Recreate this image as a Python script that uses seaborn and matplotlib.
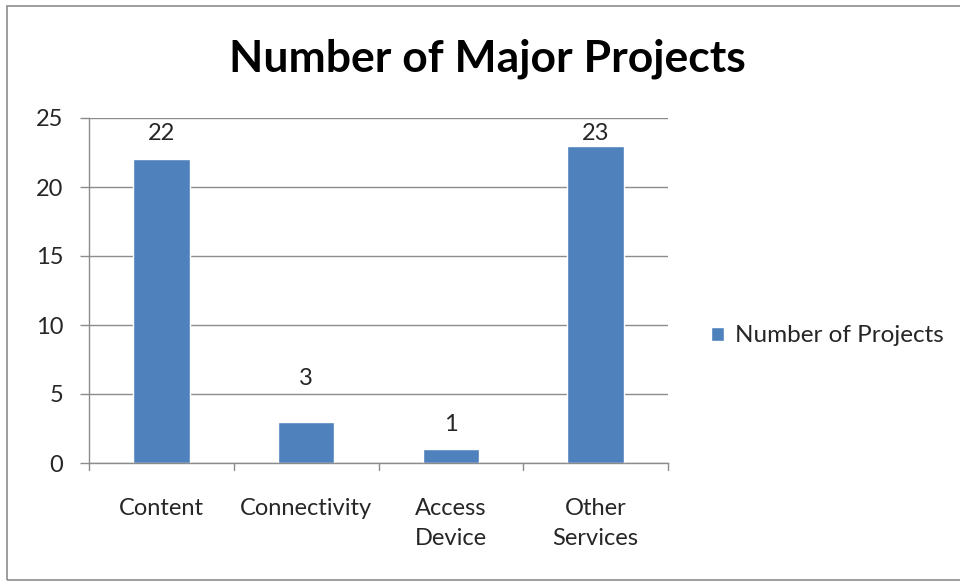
import matplotlib
matplotlib.use("Agg")
import matplotlib.pyplot as plt
from matplotlib.patches import Rectangle
import seaborn as sns
import pandas as pd

categories = ["Content", "Connectivity", "Access\nDevice", "Other\nServices"]
projects = [22, 3, 1, 23]
series_name = "Number of Projects"
y_ticks = [0, 5, 10, 15, 20, 25]

df = pd.DataFrame({"category": categories, "value": projects, "series": series_name})

sns.set_theme(style="white")
plt.rcParams["font.family"] = ["Lato", "DejaVu Sans"]

W, H = 960, 583
fig = plt.figure(figsize=(W / 100, H / 100), dpi=100)
ax = fig.add_axes([89 / W, 1 - 463 / H, (668 - 89) / W, (463 - 118) / H])

bar_color = "#4F81BD"
text_color = "#262626"
grid_color = "#8C8C8C"
fs = 17

sns.barplot(data=df, x="category", y="value", hue="series", palette=[bar_color],
            width=0.39, dodge=False, saturation=1, ax=ax, legend=True)

ax.set_ylim(0, 25)
ax.set_xlim(-0.5, len(categories) - 0.5)
ax.set_yticks(y_ticks)
ax.set_xlabel("")
ax.set_ylabel("")

# horizontal gridlines
ax.yaxis.grid(True, color=grid_color, linewidth=1.0)
ax.set_axisbelow(True)

for side in ["top", "right"]:
    ax.spines[side].set_visible(False)
for side in ["left", "bottom"]:
    ax.spines[side].set_color(grid_color)
    ax.spines[side].set_linewidth(1.0)

# category ticks sit on the boundaries between bars
ax.set_xticks([i for i in range(len(categories))])
ax.set_xticklabels(categories, fontsize=fs, color=text_color, linespacing=1.5)
ax.tick_params(axis="x", length=0, pad=25.5)
for b in [i - 0.5 for i in range(len(categories) + 1)]:
    ax.plot([b, b], [0, -0.5], color=grid_color, linewidth=1.0, clip_on=False)

ax.tick_params(axis="y", length=6.5, width=1.0, color=grid_color, direction="out",
               labelsize=fs, labelcolor=text_color, pad=12)
ax.tick_params(left=True)

# value labels above the bars
label_offsets = [19, 31, 18, 9]
for i, (v, off) in enumerate(zip(projects, label_offsets)):
    ax.annotate(str(v), xy=(i, v), xytext=(0, off), textcoords="offset points",
                ha="center", va="center", fontsize=fs, color=text_color)

# legend to the right of the plot
leg = ax.legend(loc="center left", bbox_to_anchor=(689 / W, 1 - 336 / H),
                bbox_transform=fig.transFigure, frameon=False, fontsize=fs + 0.5,
                handlelength=0.55, handleheight=0.55, handletextpad=0.45,
                labelcolor=text_color)

fig.text(487 / W, 1 - 59 / H, "Number of Major Projects", ha="center", va="center",
         fontsize=32, fontweight="bold", color="black")

# thin frame around the chart area
fig.patches.append(Rectangle((7 / W, 1 - 580 / H), (W + 5 - 7) / W, (580 - 6) / H,
                             transform=fig.transFigure, fill=False,
                             edgecolor="#8C8C8C", linewidth=1.2))

fig.savefig("out.png", dpi=100, facecolor="white")
